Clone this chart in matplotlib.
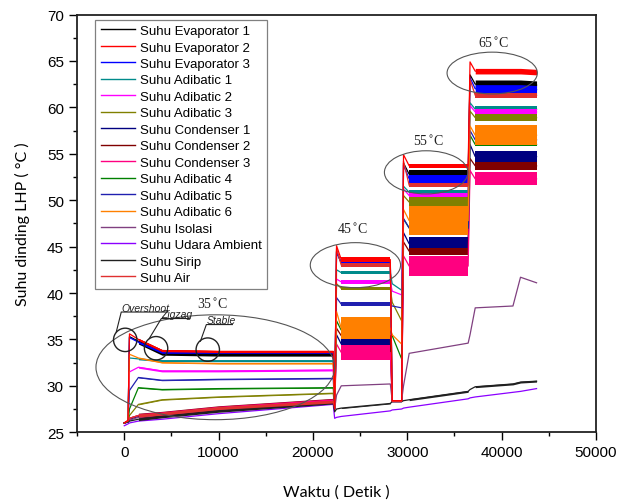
import matplotlib
matplotlib.use("Agg")
import matplotlib.pyplot as plt
from matplotlib.patches import Ellipse
from matplotlib.ticker import MultipleLocator
import numpy as np

# time grid shared by every series (detik)
t_pts = [0, 400, 550, 1500, 4000, 10000, 22150, 22300, 22500, 23000, 28200,
         28400, 29400, 29600, 30200, 36450, 36650, 37200, 41200, 42000, 43700]

names = ["Suhu Evaporator 1", "Suhu Evaporator 2", "Suhu Evaporator 3",
         "Suhu Adibatic 1", "Suhu Adibatic 2", "Suhu Adibatic 3",
         "Suhu Condenser 1", "Suhu Condenser 2", "Suhu Condenser 3",
         "Suhu Adibatic 4", "Suhu Adibatic 5", "Suhu Adibatic 6",
         "Suhu Isolasi", "Suhu Udara Ambient", "Suhu Sirip", "Suhu Air"]

colors = ["#000000", "#FF0000", "#0000FF", "#008B8B", "#FF00FF", "#808000",
          "#000080", "#800000", "#FF0080", "#008000", "#2020B0", "#FF8000",
          "#804080", "#8B00FF", "#202020", "#E03030"]

evap1 = [26.0, 26.2, 35.3, 34.8, 33.6, 33.5, 33.5, 27.5, 44.5, 43.2, 43.2,
         28.3, 28.3, 54.0, 52.8, 52.8, 63.5, 62.5, 62.5, 62.5, 62.4]
evap2 = [26.0, 26.3, 35.6, 35.0, 33.8, 33.7, 33.7, 27.5, 45.1, 43.6, 43.6,
         28.4, 28.4, 54.9, 53.7, 53.7, 64.9, 63.9, 63.9, 63.9, 63.8]
evap3 = [26.0, 26.2, 35.2, 34.7, 33.6, 33.6, 33.6, 27.6, 44.4, 43.3, 43.3,
         28.3, 28.3, 53.8, 52.3, 52.3, 63.2, 62.0, 62.0, 62.0, 61.9]
adi1 = [26.0, 26.2, 33.0, 32.9, 32.7, 32.7, 32.7, 27.6, 42.5, 42.2, 42.2,
        41.0, 40.3, 51.5, 50.85, 50.85, 60.5, 59.8, 59.8, 59.8, 59.8]
adi2 = [26.0, 26.2, 31.5, 32.0, 31.6, 31.6, 31.7, 27.6, 41.5, 41.2, 41.2,
        40.2, 39.8, 51.2, 50.5, 50.5, 60.2, 59.5, 59.5, 59.5, 59.5]
adi3 = [26.0, 26.1, 26.8, 28.0, 28.5, 28.8, 29.2, 27.6, 41.0, 40.5, 40.5,
        39.0, 37.0, 50.5, 49.8, 49.8, 59.6, 58.9, 58.9, 58.9, 58.9]
cond1 = [26.0, 26.1, 26.4, 26.7, 26.9, 27.5, 28.3, 27.5, 35.5, 34.5, 34.5,
         28.4, 28.4, 46.5, 45.3, 45.3, 56.0, 54.7, 54.7, 54.7, 54.7]
cond2 = [26.0, 26.2, 26.5, 26.8, 27.0, 27.6, 28.4, 27.5, 36.2, 35.4, 35.4,
         28.4, 28.4, 45.5, 44.5, 44.5, 54.5, 53.7, 53.7, 53.7, 53.7]
cond3 = [26.0, 26.2, 26.5, 26.8, 27.0, 27.6, 28.4, 27.5, 34.5, 33.6, 33.6,
         28.4, 28.4, 44.0, 42.9, 42.9, 53.2, 52.3, 52.3, 52.3, 52.3]
adi4 = [26.0, 26.1, 27.5, 29.8, 29.6, 29.7, 29.8, 27.6, 37.0, 36.0, 36.0,
        35.4, 32.9, 48.0, 47.0, 47.0, 57.0, 56.0, 56.0, 56.0, 56.0]
adi5 = [26.0, 26.1, 29.5, 30.9, 30.6, 30.7, 30.8, 27.6, 39.5, 38.8, 38.8,
        38.6, 38.4, 48.0, 47.0, 47.0, 57.5, 56.5, 56.5, 56.5, 56.5]
adi6 = [26.0, 26.2, 33.4, 33.0, 32.5, 32.4, 32.4, 27.6, 38.0, 36.2, 36.2,
        35.5, 34.5, 49.0, 47.8, 47.8, 58.0, 57.0, 57.0, 57.0, 57.0]
isolasi = [26.0, 26.1, 26.3, 26.6, 26.9, 27.4, 28.2, 27.5, 29.0, 30.0, 30.2,
           28.4, 28.4, 30.0, 33.5, 34.6, 35.5, 38.4, 38.6, 41.7, 41.1]
ambient = [25.7, 25.9, 26.0, 26.2, 26.4, 27.0, 28.0, 26.5, 26.6, 26.7, 27.3,
           27.4, 27.5, 27.6, 27.7, 28.6, 28.7, 28.8, 29.3, 29.4, 29.7]
sirip = [26.0, 26.1, 26.2, 26.4, 26.7, 27.3, 28.2, 27.2, 27.5, 27.6, 28.1,
         28.3, 28.3, 28.4, 28.5, 29.4, 29.6, 29.9, 30.2, 30.4, 30.5]
air = [26.0, 26.2, 26.5, 26.8, 27.0, 27.6, 28.3, 27.6, 44.8, 43.0, 43.0,
       28.3, 28.3, 54.2, 51.6, 51.6, 63.0, 61.3, 61.3, 61.3, 61.3]

temps = [evap1, evap2, evap3, adi1, adi2, adi3, cond1, cond2, cond3,
         adi4, adi5, adi6, isolasi, ambient, sirip, air]

# half width of the fluctuation band in each heating stage (35, 45, 55, 65 C)
spread = [[0.3, 0.2, 0.4, 0.45], [0.12, 0.25, 0.25, 0.3], [0.1, 0.4, 0.4, 0.45],
          [0.1, 0.2, 0.25, 0.3], [0.1, 0.2, 0.25, 0.3], [0.05, 0.2, 0.5, 0.4],
          [0.15, 0.6, 0.7, 0.6], [0.25, 0.4, 0.4, 0.4], [0.2, 0.8, 1.1, 0.7],
          [0.05, 0.2, 0.2, 0.2], [0.05, 0.25, 0.3, 0.3], [0.05, 1.2, 1.6, 1.05],
          [0, 0, 0, 0], [0, 0, 0, 0], [0.15, 0.05, 0.1, 0.1], [0.15, 0.2, 0.2, 0.3]]

stages = [(3, 6), (9, 10), (14, 15), (17, 20)]

fig = plt.figure(figsize=(6.32, 5.02), dpi=100)
ax = fig.add_axes([0.122, 0.137, 0.821, 0.832])

t = np.array(t_pts)
for i, (name, c, y) in enumerate(zip(names, colors, temps)):
    y = np.array(y)
    z = 3 if i == 1 else 2 + i * 0.01  # red evaporator line sits on top
    for (a, b), n in zip(stages, spread[i]):
        if n > 0:
            ax.fill_between(t[a:b + 1], y[a:b + 1] - n, y[a:b + 1] + n,
                            color=c, lw=0, zorder=z)
    ax.plot(t, y, color=c, lw=0.9, label=name, zorder=z)

# annotations
ell_kw = dict(fill=False, ec="#555555", lw=0.8, zorder=10)
ax.add_patch(Ellipse((9650, 32.0), 25300, 11.3, **ell_kw))
ax.add_patch(Ellipse((24500, 43.0), 9570, 4.85, **ell_kw))
ax.add_patch(Ellipse((32000, 53.0), 8850, 4.65, **ell_kw))
ax.add_patch(Ellipse((39000, 63.7), 9570, 4.5, **ell_kw))

serif = dict(family="Liberation Serif", fontsize=10, color="#222222", ha="center")
ax.text(9300, 38.4, "35$^{\\circ}$C", **serif)
ax.text(24200, 46.5, "45$^{\\circ}$C", **serif)
ax.text(32200, 56.0, "55$^{\\circ}$C", **serif)
ax.text(39100, 66.5, "65$^{\\circ}$C", **serif)

circ_kw = dict(fill=False, ec="#222222", lw=1.0, zorder=11)
for cx, cy, label, tx, ty, ux, lx, ly in [
        (100, 34.95, "Overshoot", -320, 38.0, 4570, -850, 35.8),
        (3370, 34.05, "Zigzag", 3930, 37.3, 6900, 2650, 35.1),
        (8850, 33.9, "Stable", 8700, 36.65, 11460, 8070, 34.8)]:
    ax.add_patch(Ellipse((cx, cy), 2480, 2.52, **circ_kw))
    ax.text(tx, ty + 0.1, label, fontsize=7.5, style="italic", family="Liberation Sans",
            color="#222222", zorder=11)
    ax.plot([ux, tx, lx], [ty - 0.05, ty - 0.05, ly], color="#222222", lw=0.8, zorder=11)

ax.set_xlim(-5000, 50000)
ax.set_ylim(25, 70)
ax.xaxis.set_major_locator(MultipleLocator(10000))
ax.xaxis.set_minor_locator(MultipleLocator(5000))
ax.yaxis.set_major_locator(MultipleLocator(5))
ax.yaxis.set_minor_locator(MultipleLocator(2.5))
ax.tick_params(which="both", direction="out", width=1.0, labelsize=11, top=False, right=False)
ax.tick_params(which="major", length=6)
ax.tick_params(which="minor", length=3)
for lab in ax.get_xticklabels() + ax.get_yticklabels():
    lab.set_family("Liberation Sans")
for s in ax.spines.values():
    s.set_linewidth(1.3)
    s.set_color("#222222")

ax.set_xlabel("Waktu ( Detik )", family="Lato", fontsize=11.5, labelpad=18)
ax.set_ylabel("Suhu dinding LHP ( °C )", family="Lato", fontsize=11.5, labelpad=12)

leg = ax.legend(loc="upper left", bbox_to_anchor=(0.035, 0.988), borderaxespad=0,
                prop={"family": "Liberation Sans", "size": 9.5},
                handlelength=2.6, handletextpad=0.4, labelspacing=0.32, borderpad=0.4,
                fancybox=False, framealpha=1)
leg.get_frame().set_edgecolor("#808080")
leg.get_frame().set_linewidth(0.9)
for h in leg.get_lines():
    h.set_linewidth(1.0)

fig.savefig("out.png", dpi=100)
